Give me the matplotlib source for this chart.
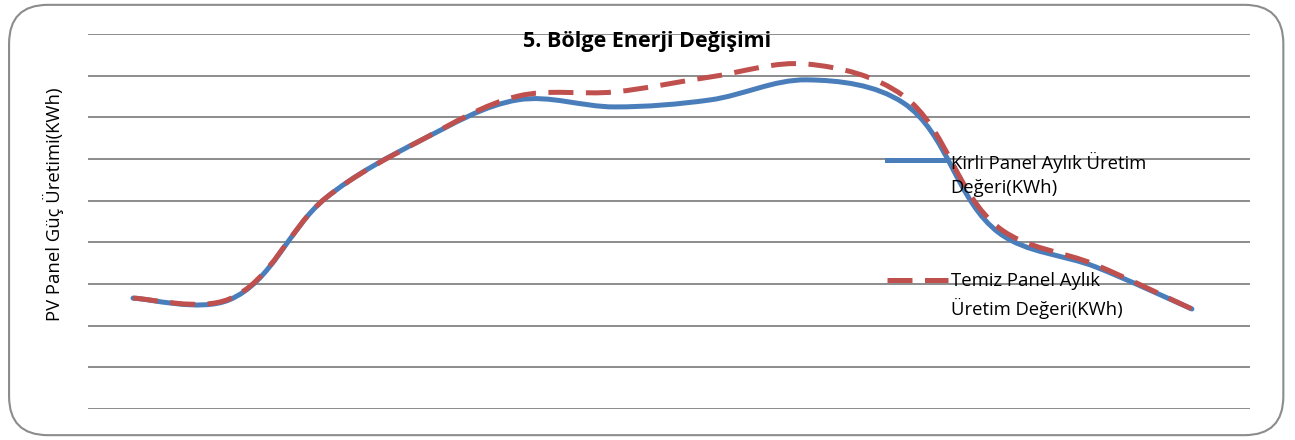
import matplotlib
matplotlib.use("Agg")
import numpy as np
from matplotlib import pyplot as plt
from matplotlib.path import Path
from matplotlib.patches import PathPatch, FancyBboxPatch
from matplotlib.lines import Line2D

plt.rcParams['font.family'] = ['Open Sans', 'DejaVu Sans']

# monthly values (arbitrary units, one gridline = 100)
months = list(range(12))
kirli = [266, 262, 506, 646, 742, 725, 742, 790, 735, 422, 341, 240]
temiz = [266, 264, 506, 646, 751, 761, 797, 828, 752, 434, 346, 240]

title = "5. Bölge Enerji Değişimi"
ylabel = "PV Panel Güç Üretimi(KWh)"
label_kirli = "Kirli Panel Aylık Üretim\nDeğeri(KWh)"
label_temiz = "Temiz Panel Aylık\nÜretim Değeri(KWh)"

blue = "#4a7ebb"
red = "#c0504d"


def smooth_path(ax, xs, ys):
    # smoothed line like the spreadsheet one: bezier segments whose control
    # arms follow the bisector of neighbouring segments (screen space)
    pts = ax.transData.transform(np.column_stack([xs, ys]))
    n = len(pts)
    tang = []
    for i in range(n):
        if i == 0:
            d = pts[1] - pts[0]
        elif i == n - 1:
            d = pts[-1] - pts[-2]
        else:
            a = pts[i] - pts[i - 1]
            b = pts[i + 1] - pts[i]
            d = a / np.hypot(*a) + b / np.hypot(*b)
        tang.append(d / np.hypot(*d))
    verts = [pts[0]]
    codes = [Path.MOVETO]
    for i in range(n - 1):
        seg = np.hypot(*(pts[i + 1] - pts[i]))
        k0 = 1 / 6 if i == 0 else 1 / 3
        k1 = 1 / 6 if i == n - 2 else 1 / 3
        c1 = pts[i] + tang[i] * seg * k0
        c2 = pts[i + 1] - tang[i + 1] * seg * k1
        verts += [c1, c2, pts[i + 1]]
        codes += [Path.CURVE4] * 3
    verts = ax.transData.inverted().transform(np.array(verts))
    return Path(verts, codes)


fig = plt.figure(figsize=(12.95, 4.4), dpi=100)

# chart border
fig.patches.append(FancyBboxPatch((0.007, 0.011), 0.984, 0.978,
                                  boxstyle="round,pad=0,rounding_size=0.03",
                                  transform=fig.transFigure, fill=False,
                                  edgecolor="#8c8c8c", linewidth=1.5,
                                  mutation_aspect=12.95 / 4.4))

ax = fig.add_axes([0.068, 0.0705, 0.897, 0.8522])
ax.set_xlim(-0.467, 11.6)
ax.set_ylim(0, 900)
for v in range(0, 901, 100):
    ax.axhline(v, color="#8c8c8c", linewidth=1.4, zorder=1)
for s in ax.spines.values():
    s.set_visible(False)
ax.set_xticks([])
ax.set_yticks([])

ax.add_patch(PathPatch(smooth_path(ax, months, kirli), fill=False,
                       edgecolor=blue, linewidth=3.6, zorder=3,
                       capstyle="round", joinstyle="round"))
ax.add_patch(PathPatch(smooth_path(ax, months, temiz), fill=False,
                       edgecolor=red, linewidth=3.6, zorder=4,
                       linestyle=(0, (5.0, 2.5)), capstyle="butt"))

fig.text(0.5, 0.905, title, ha="center", va="center",
         fontsize=15.5, fontweight="bold")
fig.text(0.041, 1 - 204 / 440, ylabel, rotation=90, ha="center",
         va="center", fontsize=13.3)

# legend drawn by hand to sit where the original had it
fig.add_artist(Line2D([0.685, 0.732], [1 - 160 / 440] * 2, color=blue,
                      linewidth=3.6, transform=fig.transFigure))
fig.add_artist(Line2D([0.685, 0.732], [1 - 280 / 440] * 2, color=red,
                      linewidth=3.6, linestyle=(0, (5.0, 2.5)),
                      transform=fig.transFigure))
fig.text(0.734, 1 - 152 / 440, label_kirli, ha="left", va="top",
         fontsize=13.3, linespacing=1.45)
fig.text(0.734, 1 - 272 / 440, label_temiz, ha="left", va="top",
         fontsize=13.3, linespacing=1.45)

fig.savefig("out.png", dpi=100)
